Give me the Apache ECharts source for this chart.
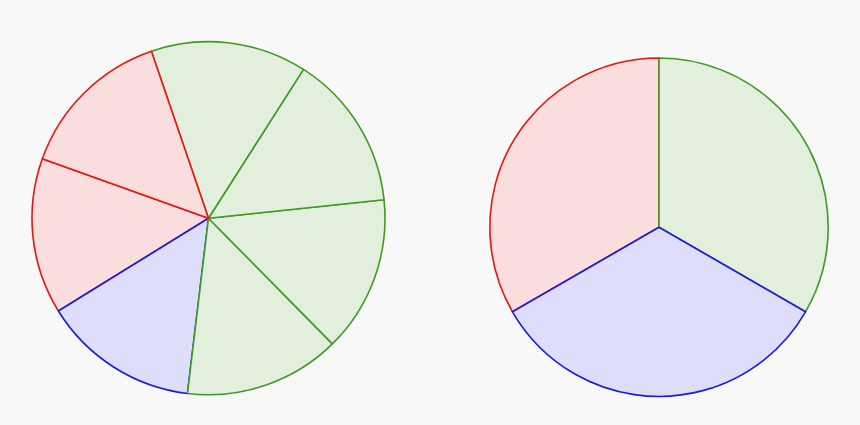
<!DOCTYPE html>
<html>
<head>
<meta charset="utf-8">
<script src="https://cdn.jsdelivr.net/npm/echarts@6/dist/echarts.min.js"></script>
<style>
html,body{margin:0;padding:0;background:#f8f8f8;}
#c{width:860px;height:425px;}
</style>
</head>
<body>
<div id="c"></div>
<script>
// Left pie: 7 equal parts (2 red, 1 blue, 4 green), listed counter-clockwise
var leftParts = ['red', 'blue', 'green', 'green', 'green', 'green', 'red'];
var leftValues = [1, 1, 1, 1, 1, 1, 1];
// Right pie: 3 equal parts, listed clockwise
var rightParts = ['red', 'green', 'blue'];
var rightValues = [1, 1, 1];

var palette = {
  red:   { fill: '#fadddd', stroke: '#ee1111' },
  green: { fill: '#e3efdd', stroke: '#3f9a22' },
  blue:  { fill: '#dedefa', stroke: '#1a1ae6' }
};

function makeData(parts, values) {
  return parts.map(function (p, i) {
    return {
      value: values[i],
      name: p + i,
      itemStyle: { color: palette[p].fill, borderColor: palette[p].stroke, borderWidth: 1.6 }
    };
  });
}

var chart = echarts.init(document.getElementById('c'));
chart.setOption({
  backgroundColor: '#f8f8f8',
  animation: false,
  series: [
    {
      type: 'pie',
      center: [208.5, 218.2],
      radius: [0, 176.5],
      startAngle: 160.3,
      clockwise: false,
      label: { show: false },
      labelLine: { show: false },
      emphasis: { disabled: true },
      silent: true,
      data: makeData(leftParts, leftValues)
    },
    {
      type: 'pie',
      center: [659, 227.2],
      radius: [0, 169.2],
      startAngle: 210,
      clockwise: true,
      label: { show: false },
      labelLine: { show: false },
      emphasis: { disabled: true },
      silent: true,
      data: makeData(rightParts, rightValues)
    }
  ]
});
</script>
</body>
</html>
